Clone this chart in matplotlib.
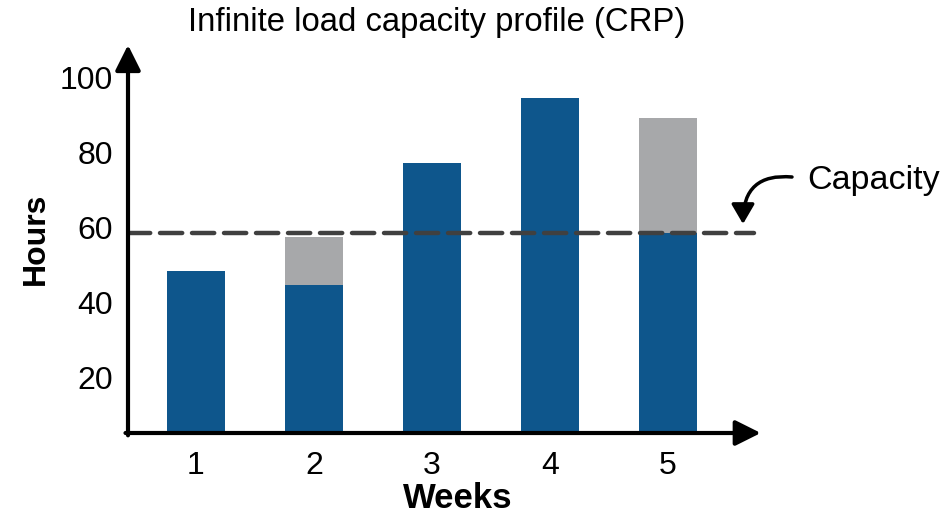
import matplotlib.pyplot as plt

plt.rcParams['font.family'] = ['Liberation Sans', 'DejaVu Sans']

weeks = [1, 2, 3, 4, 5]
week_labels = ["1", "2", "3", "4", "5"]
load_within = [48.5, 44.8, 77.2, 94.6, 58.7]
load_over = [0, 12.8, 0, 0, 30.6]
capacity = 58.7
y_ticks = [20, 40, 60, 80, 100]

blue = "#0e568c"
grey = "#a7a8aa"

fig = plt.figure(figsize=(9.46, 5.16), dpi=100)
ax = fig.add_axes([128 / 946, 83 / 516, 629 / 946, 388 / 516])

ax.bar(weeks, load_within, width=0.49, color=blue, zorder=2)
ax.bar(weeks, load_over, width=0.49, bottom=load_within, color=grey, zorder=2)

ax.axhline(capacity, color="#404040", lw=3.2, ls=(0, (5, 2.2)),
           dash_capstyle="round", zorder=3, xmax=0.995)

ax.set_xlim(0.424, 5.754)
ax.set_ylim(5.3, 108.8)

for s in ax.spines.values():
    s.set_visible(False)

# axes drawn as arrows
arrow = dict(arrowstyle="-|>,head_length=0.7,head_width=0.35", lw=3,
             color="black", mutation_scale=22, shrinkA=0, shrinkB=0)
ax.annotate("", xy=(1.006, 0), xytext=(-0.004, 0), xycoords="axes fraction",
            arrowprops=arrow, zorder=5, annotation_clip=False)
ax.annotate("", xy=(0, 1), xytext=(0, -0.006), xycoords="axes fraction",
            arrowprops=arrow, zorder=5, annotation_clip=False)

ax.set_xticks(weeks)
ax.set_xticklabels(week_labels)
ax.set_yticks(y_ticks)
ax.tick_params(length=0, labelsize=23)
ax.tick_params(axis="x", pad=13)
ax.tick_params(axis="y", pad=11)

ax.set_ylabel("Hours", fontsize=23, fontweight="bold", labelpad=6)
fig.text(458 / 946, 1 - 498 / 516, "Weeks", fontsize=25, fontweight="bold",
         ha="center", va="center")

fig.text(437 / 946, 1 - 22 / 516, "Infinite load capacity profile (CRP)",
         fontsize=23.7, ha="center", va="center")

# curved pointer from the label to the capacity line
ax.annotate("", xy=(743 / 946, 1 - 224 / 516), xytext=(792 / 946, 1 - 177 / 516),
            xycoords="figure fraction",
            arrowprops=dict(arrowstyle="-|>,head_length=0.6,head_width=0.35",
                            connectionstyle="angle3,angleA=-5,angleB=90", lw=2.5,
                            color="black", mutation_scale=20, shrinkA=0, shrinkB=0),
            annotation_clip=False)
fig.text(807 / 946, 1 - 180 / 516, "Capacity", fontsize=24.5, ha="left", va="center")

fig.savefig("out.png", dpi=100)
